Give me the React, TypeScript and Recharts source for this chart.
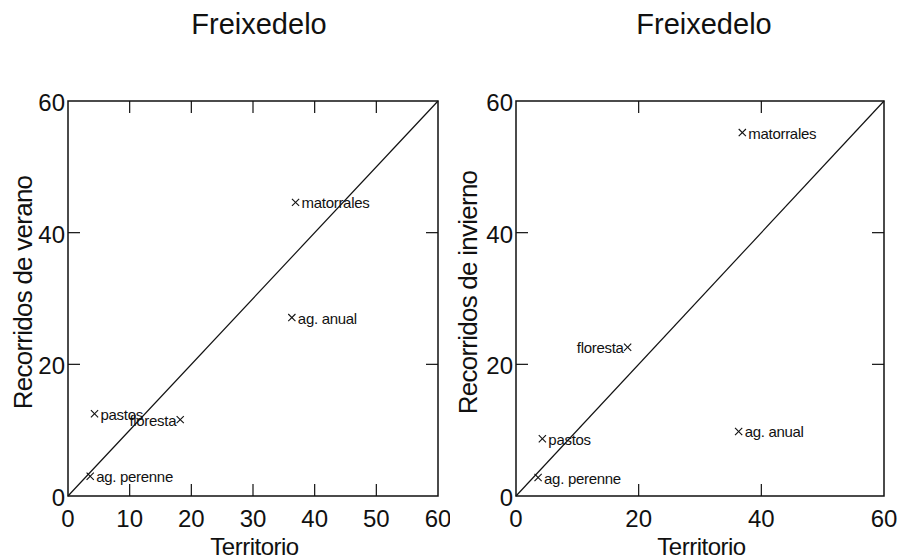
import React from 'react';
import { ScatterChart, Scatter, XAxis, YAxis, ReferenceLine, ReferenceArea } from 'recharts';

// ---- data ----
const categories = ['matorrales', 'ag. anual', 'pastos', 'floresta', 'ag. perenne'];
const territorio = [36.9, 36.3, 4.3, 18.2, 3.6];
const veranoValues = [44.6, 27.1, 12.5, 11.6, 3.0];
const inviernoValues = [55.2, 9.8, 8.7, 22.6, 2.8];
const xTicksVerano = [0, 10, 20, 30, 40, 50, 60];
const xTicksInvierno = [0, 20, 40, 60];
const yTicks = [0, 20, 40, 60];
const axisDomain = [0, 60];
const titleText = 'Freixedelo';
const xLabelText = 'Territorio';
const yLabelVerano = 'Recorridos de verano';
const yLabelInvierno = 'Recorridos de invierno';
const leftLabelled = ['floresta'];

const veranoData = categories.map((name, i) => ({ name, x: territorio[i], y: veranoValues[i] }));
const inviernoData = categories.map((name, i) => ({ name, x: territorio[i], y: inviernoValues[i] }));

// ---- styles ----
const FONT = '"Liberation Sans", Arial, Helvetica, sans-serif';
const INK = '#111';
const TICK_LEN = 12;
const CHART_H = 560;
const TOP = 101;
const X_AXIS_H = 64;
const PLOT_H = CHART_H - TOP - X_AXIS_H;

function XTick(props: any) {
  const { x, y, payload, plotHeight } = props;
  const v = payload.value;
  const inner = v !== axisDomain[0] && v !== axisDomain[1];
  return (
    <g>
      {inner && <line x1={x} y1={y} x2={x} y2={y - TICK_LEN} stroke={INK} strokeWidth={1.2} />}
      {inner && (
        <line x1={x} y1={y - plotHeight} x2={x} y2={y - plotHeight + TICK_LEN} stroke={INK} strokeWidth={1.2} />
      )}
      <text x={x} y={y + 31} textAnchor="middle" fontSize={24} fontFamily={FONT} fill={INK}>
        {v}
      </text>
    </g>
  );
}

function YTick(props: any) {
  const { x, y, payload, plotWidth } = props;
  const v = payload.value;
  const inner = v !== axisDomain[0] && v !== axisDomain[1];
  return (
    <g>
      {inner && <line x1={x} y1={y} x2={x + TICK_LEN} y2={y} stroke={INK} strokeWidth={1.2} />}
      {inner && (
        <line x1={x + plotWidth} y1={y} x2={x + plotWidth - TICK_LEN} y2={y} stroke={INK} strokeWidth={1.2} />
      )}
      <text x={x - 3} y={y + 10} textAnchor="end" fontSize={24} fontFamily={FONT} fill={INK}>
        {v}
      </text>
    </g>
  );
}

function XLabel(props: any) {
  const { viewBox, text } = props;
  const { x, y, width } = viewBox;
  return (
    <text
      x={x + width / 2 + 1.5}
      y={y + 59}
      textAnchor="middle"
      fontSize={24}
      letterSpacing={-0.5}
      fontFamily={FONT}
      fill={INK}
    >
      {text}
    </text>
  );
}

function YLabel(props: any) {
  const { viewBox, text, baseX } = props;
  const { x, y, height } = viewBox;
  const bx = x + baseX;
  const cy = y + height / 2 - 6;
  return (
    <text
      x={bx}
      y={cy}
      transform={`rotate(-90, ${bx}, ${cy})`}
      textAnchor="middle"
      fontSize={26}
      letterSpacing={-0.75}
      fontFamily={FONT}
      fill={INK}
    >
      {text}
    </text>
  );
}

function CrossMark(props: any) {
  const { cx, cy, payload } = props;
  const left = leftLabelled.includes(payload.name);
  const s = 3.6;
  return (
    <g>
      <line x1={cx - s} y1={cy - s} x2={cx + s} y2={cy + s} stroke={INK} strokeWidth={1.1} />
      <line x1={cx - s} y1={cy + s} x2={cx + s} y2={cy - s} stroke={INK} strokeWidth={1.1} />
      <text
        x={left ? cx - 4 : cx + 6}
        y={cy + 6}
        textAnchor={left ? 'end' : 'start'}
        fontSize={15}
        letterSpacing={-0.3}
        fontFamily={FONT}
        fill={INK}
      >
        {payload.name}
      </text>
    </g>
  );
}

function Panel(props: any) {
  const { width, yAxisWidth, rightMargin, data, xTicks, yLabel, yLabelX } = props;
  const plotWidth = width - yAxisWidth - rightMargin;
  return (
    <ScatterChart
      width={width}
      height={CHART_H}
      margin={{ top: TOP, right: rightMargin, bottom: 0, left: 0 }}
    >
      <XAxis
        dataKey="x"
        type="number"
        domain={axisDomain}
        ticks={xTicks}
        interval={0}
        tickLine={false}
        axisLine={false}
        tickSize={0}
        tickMargin={0}
        height={X_AXIS_H}
        tick={<XTick plotHeight={PLOT_H} />}
        label={<XLabel text={xLabelText} />}
      />
      <YAxis
        dataKey="y"
        type="number"
        domain={axisDomain}
        ticks={yTicks}
        interval={0}
        tickLine={false}
        axisLine={false}
        tickSize={0}
        tickMargin={0}
        width={yAxisWidth}
        tick={<YTick plotWidth={plotWidth} />}
        label={<YLabel text={yLabel} baseX={yLabelX} />}
      />
      <ReferenceArea
        x1={axisDomain[0]}
        x2={axisDomain[1]}
        y1={axisDomain[0]}
        y2={axisDomain[1]}
        fill="none"
        fillOpacity={0}
        stroke={INK}
        strokeWidth={1.5}
      />
      <ReferenceLine
        segment={[
          { x: axisDomain[0], y: axisDomain[0] },
          { x: axisDomain[1], y: axisDomain[1] },
        ]}
        stroke={INK}
        strokeWidth={1.2}
      />
      <Scatter data={data} shape={<CrossMark />} isAnimationActive={false} />
    </ScatterChart>
  );
}

export default function App() {
  return (
    <div style={{ position: 'absolute', left: 0, top: 0, width: 899, height: 560, background: '#fff' }}>
      <svg width={899} height={60} style={{ position: 'absolute', left: 0, top: 0 }}>
        <text x={259} y={34} textAnchor="middle" fontSize={29} fontFamily={FONT} fill={INK}>
          {titleText}
        </text>
        <text x={704} y={34} textAnchor="middle" fontSize={29} fontFamily={FONT} fill={INK}>
          {titleText}
        </text>
      </svg>
      <div style={{ position: 'absolute', left: 0, top: 0 }}>
        <Panel
          width={450}
          yAxisWidth={68}
          rightMargin={12}
          data={veranoData}
          xTicks={xTicksVerano}
          yLabel={yLabelVerano}
          yLabelX={31.7}
        />
      </div>
      <div style={{ position: 'absolute', left: 450, top: 0 }}>
        <Panel
          width={449}
          yAxisWidth={66}
          rightMargin={15}
          data={inviernoData}
          xTicks={xTicksInvierno}
          yLabel={yLabelInvierno}
          yLabelX={26.7}
        />
      </div>
    </div>
  );
}
